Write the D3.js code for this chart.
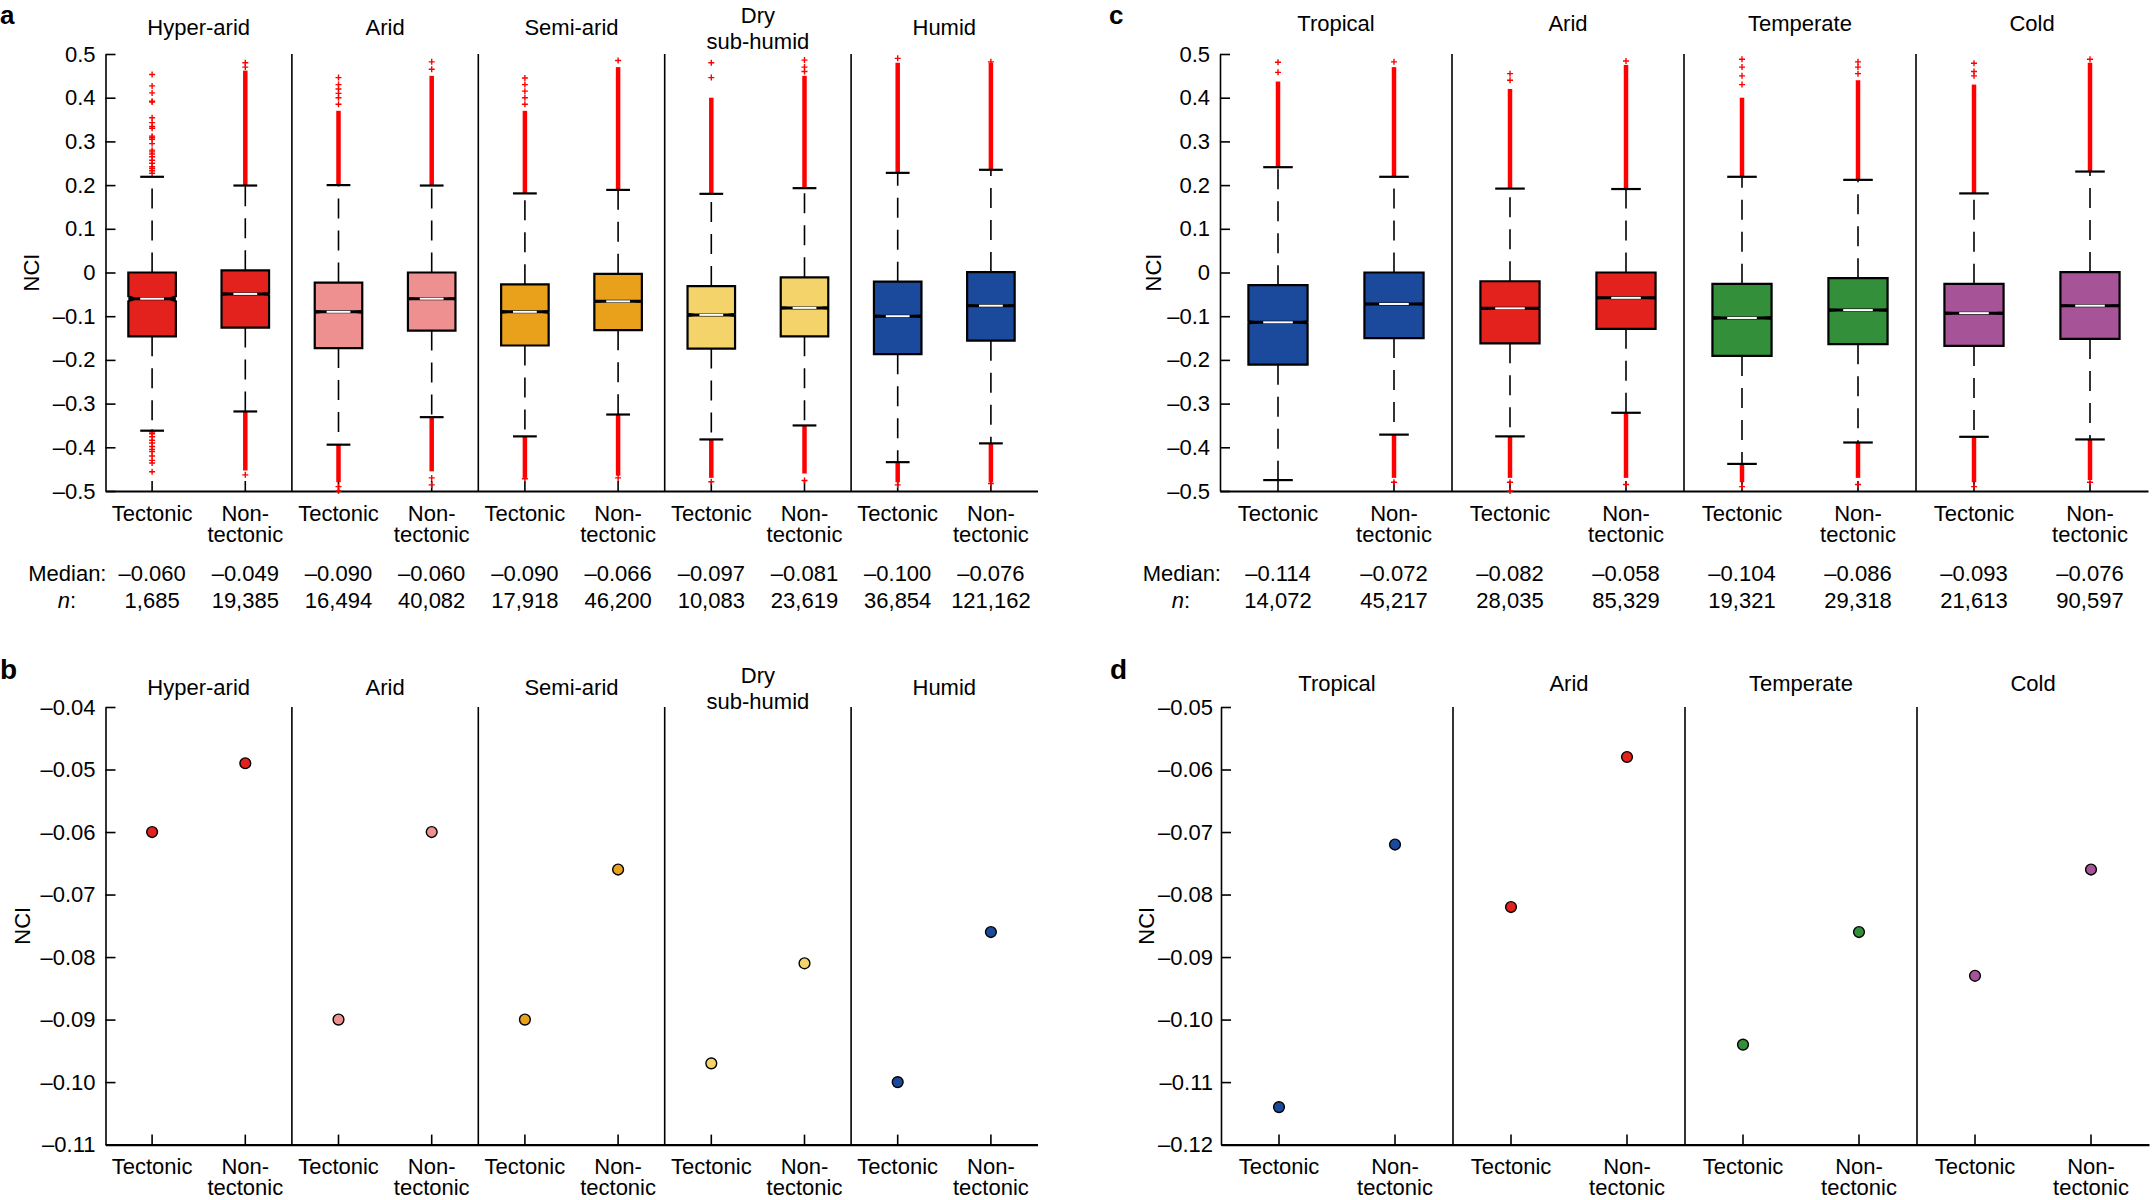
<!DOCTYPE html>
<html>
<head>
<meta charset="utf-8">
<script src="https://cdn.jsdelivr.net/npm/d3@7"></script>
<style>
  body { margin: 0; background: #fff; }
</style>
</head>
<body>
<div id="idMyCanvas"></div>
<script>
// Data
// -------------------
let aridity_zones = ["Hyper-arid", "Arid", "Semi-arid", "Dry\nsub-humid", "Humid"];
let climate_zones = ["Tropical", "Arid", "Temperate", "Cold"];
let setting_labels = ["Tectonic", "Non-\ntectonic"];

let aridity_colors = ["#e3221d", "#ee9090", "#e9a01a", "#f4d36b", "#1b4a9c"];
let climate_colors = ["#1b4a9c", "#e3221d", "#348f3b", "#a75397"];

// panel a / b  (order: tectonic, non-tectonic per zone)
let aridity_median = [-0.060, -0.049, -0.090, -0.060, -0.090, -0.066, -0.097, -0.081, -0.100, -0.076];
let aridity_n      = [1685, 19385, 16494, 40082, 17918, 46200, 10083, 23619, 36854, 121162];
let aridity_q3     = [0.000, 0.005, -0.023, 0.000, -0.027, -0.003, -0.031, -0.011, -0.021, 0.001];
let aridity_q1     = [-0.146, -0.126, -0.173, -0.133, -0.167, -0.132, -0.174, -0.146, -0.187, -0.156];
let aridity_whi    = [0.219, 0.199, 0.200, 0.199, 0.181, 0.189, 0.180, 0.193, 0.228, 0.235];
let aridity_wlo    = [-0.362, -0.318, -0.394, -0.331, -0.375, -0.325, -0.382, -0.350, -0.434, -0.391];
let aridity_band_hi = [null, 0.462, 0.37, 0.45, 0.37, 0.47, 0.40, 0.45, 0.48, 0.48];
let aridity_band_lo = [null, -0.453, -0.48, -0.455, -0.47, -0.465, -0.47, -0.46, -0.48, -0.48];
let aridity_pts_hi = [
  [0.453, 0.427, 0.411, 0.392, 0.390, 0.354, 0.343, 0.334, 0.330, 0.312, 0.309, 0.305,
   0.295, 0.280, 0.276, 0.271, 0.265, 0.257, 0.250, 0.242, 0.238, 0.233, 0.227],
  [0.480, 0.470],
  [0.446, 0.430, 0.420, 0.410, 0.400, 0.385],
  [0.482, 0.465],
  [0.445, 0.430, 0.415, 0.400, 0.385],
  [0.485],
  [0.480, 0.446],
  [0.486, 0.470, 0.460],
  [0.490],
  [0.482]
];
let aridity_pts_lo = [
  [-0.365, -0.369, -0.376, -0.384, -0.390, -0.398, -0.405, -0.410, -0.420, -0.430, -0.436, -0.456],
  [-0.463],
  [-0.490, -0.500],
  [-0.470, -0.486],
  [-0.472],
  [-0.470],
  [-0.479],
  [-0.476],
  [-0.486],
  [-0.483]
];

// panel c / d
let climate_median = [-0.114, -0.072, -0.082, -0.058, -0.104, -0.086, -0.093, -0.076];
let climate_n      = [14072, 45217, 28035, 85329, 19321, 29318, 21613, 90597];
let climate_q3     = [-0.029, 0.000, -0.020, 0.000, -0.026, -0.013, -0.026, 0.001];
let climate_q1     = [-0.211, -0.150, -0.162, -0.129, -0.191, -0.164, -0.168, -0.152];
let climate_whi    = [0.241, 0.219, 0.192, 0.191, 0.219, 0.212, 0.181, 0.231];
let climate_wlo    = [-0.475, -0.371, -0.375, -0.321, -0.438, -0.389, -0.376, -0.382];
let climate_band_hi = [0.437, 0.47, 0.42, 0.475, 0.40, 0.44, 0.43, 0.48];
let climate_band_lo = [null, -0.47, -0.47, -0.47, -0.48, -0.47, -0.48, -0.475];
let climate_pts_hi = [
  [0.481, 0.458], [0.482], [0.455, 0.440], [0.484],
  [0.488, 0.470, 0.450, 0.430], [0.482, 0.470, 0.455], [0.479, 0.460, 0.450], [0.488]
];
let climate_pts_lo = [
  [], [-0.480], [-0.480, -0.500], [-0.485], [-0.490], [-0.485], [-0.490], [-0.480]
];

let box_ticks = [0.5, 0.4, 0.3, 0.2, 0.1, 0, -0.1, -0.2, -0.3, -0.4, -0.5];
let b_ticks = [-0.04, -0.05, -0.06, -0.07, -0.08, -0.09, -0.10, -0.11];
let d_ticks = [-0.05, -0.06, -0.07, -0.08, -0.09, -0.10, -0.11, -0.12];
// -------------------

let W = 2152, H = 1200;
let FONT = "'Liberation Sans', Arial, Helvetica, sans-serif";
let FS = 22;

let svg_obj = d3.select("#idMyCanvas")
                .append("svg")
                  .attr("width", W)
                  .attr("height", H)
                  .attr("viewBox", [0, 0, W, H].join(" "))
                  .attr("font-family", FONT)
                  .attr("font-size", FS);

svg_obj.append("rect").attr("width", W).attr("height", H).attr("fill", "#fff");

let dash_fmt = function(v, dec) {
  if (Math.abs(v) < 1e-9) return "0";
  return (v < 0 ? "\u2013" : "") + Math.abs(v).toFixed(dec);
};

// shared frame: axes, dividers, titles, category labels
function frame(g, x, y, zones, opt) {
  let bw = x.bandwidth();
  let x0 = x.range()[0], x1 = x.range()[1];
  let yTop = y.range()[1], yBot = y.range()[0];

  // dividers
  for (let i = 1; i < zones.length; i++) {
    let xd = x(2 * i);
    g.append("line")
      .attr("x1", xd).attr("x2", xd)
      .attr("y1", yTop).attr("y2", yBot)
      .attr("stroke", "#000").attr("stroke-width", 1.6);
  }

  // y axis
  let ya = g.append("g")
    .attr("transform", `translate(${x0},0)`)
    .call(d3.axisLeft(y).tickValues(opt.ticks).tickSizeInner(-10).tickSizeOuter(0)
      .tickPadding(opt.pad).tickFormat(d => dash_fmt(d, opt.dec)));
  ya.attr("font-family", FONT).attr("font-size", FS);
  ya.select(".domain").attr("stroke-width", 1.6);
  ya.selectAll(".tick line").attr("stroke-width", 1.6);

  // x axis
  let xa = g.append("g")
    .attr("transform", `translate(0,${yBot})`)
    .call(d3.axisBottom(x).tickSizeInner(-10).tickSizeOuter(0).tickFormat(() => ""));
  xa.select(".domain").attr("stroke-width", 2.2);
  xa.selectAll(".tick line").attr("stroke-width", 1.6);

  // category labels
  x.domain().forEach(function(k) {
    let lines = setting_labels[k % 2].split("\n");
    let t = g.append("text")
      .attr("text-anchor", "middle")
      .attr("x", x(k) + bw / 2)
      .attr("y", opt.labelY);
    lines.forEach(function(s, j) {
      t.append("tspan").attr("x", x(k) + bw / 2).attr("dy", j === 0 ? 0 : 21).text(s);
    });
  });

  // zone titles
  zones.forEach(function(z, i) {
    let lines = z.split("\n");
    let cx = x(2 * i) + bw;
    let base = lines.length > 1 ? opt.titleY - 12 : opt.titleY;
    let t = g.append("text").attr("text-anchor", "middle").attr("x", cx).attr("y", base);
    lines.forEach(function(s, j) {
      t.append("tspan").attr("x", cx).attr("dy", j === 0 ? 0 : 26).text(s);
    });
  });

  // y label
  g.append("text")
    .attr("transform", `translate(${opt.nciX},${(yTop + yBot) / 2}) rotate(-90)`)
    .attr("text-anchor", "middle")
    .attr("dy", "0.35em")
    .text("NCI");
}

function box_panel(opt) {
  let g = svg_obj.append("g");
  let keys = d3.range(opt.zones.length * 2);
  let x = d3.scaleBand().domain(keys).range([opt.x0, opt.x1]);
  let y = d3.scaleLinear().domain([-0.5, 0.5]).range([491, 54]);
  let bw = x.bandwidth();
  let w = bw * 0.51;

  frame(g, x, y, opt.zones, {ticks: box_ticks, dec: 1, pad: 10, labelY: 521,
                             titleY: opt.titleY, nciX: opt.nciX});

  keys.forEach(function(i) {
    let cx = x(i) + bw / 2;
    let l = cx - w / 2, r = cx + w / 2;
    let col = opt.colors[Math.floor(i / 2)];

    // outliers
    let plus = function(v) {
      let py = y(v);
      g.append("path")
        .attr("d", `M${cx - 3},${py}H${cx + 3}M${cx},${py - 3}V${py + 3}`)
        .attr("stroke", "#ff0000").attr("stroke-width", 1.4).attr("fill", "none");
    };
    if (opt.bandHi[i] != null) {
      g.append("line").attr("x1", cx).attr("x2", cx)
        .attr("y1", y(opt.whi[i])).attr("y2", y(opt.bandHi[i]))
        .attr("stroke", "#ff0000").attr("stroke-width", 4.5);
    }
    if (opt.bandLo[i] != null) {
      g.append("line").attr("x1", cx).attr("x2", cx)
        .attr("y1", y(opt.wlo[i])).attr("y2", y(opt.bandLo[i]))
        .attr("stroke", "#ff0000").attr("stroke-width", 4.5);
    }
    opt.ptsHi[i].forEach(plus);
    opt.ptsLo[i].forEach(plus);

    // whiskers
    let top = y(opt.q3[i]), bot = y(opt.q1[i]), m = y(opt.median[i]);
    [[top, y(opt.whi[i])], [bot, y(opt.wlo[i])]].forEach(function(p) {
      g.append("line").attr("x1", cx).attr("x2", cx).attr("y1", p[0]).attr("y2", p[1])
        .attr("stroke", "#000").attr("stroke-width", 1.6).attr("stroke-dasharray", "20,12");
      g.append("line").attr("x1", cx - w / 4).attr("x2", cx + w / 4).attr("y1", p[1]).attr("y2", p[1])
        .attr("stroke", "#000").attr("stroke-width", 2.2);
    });

    // notched box
    let notch = 1.57 * (opt.q3[i] - opt.q1[i]) / Math.sqrt(opt.n[i]);
    let nh = y(opt.median[i] - notch) - m;
    let dep = w * 0.14;
    let d = `M${l},${top}H${r}V${m - nh}L${r - dep},${m}L${r},${m + nh}V${bot}H${l}V${m + nh}L${l + dep},${m}L${l},${m - nh}Z`;
    g.append("path").attr("d", d).attr("fill", col)
      .attr("stroke", "#000").attr("stroke-width", 2.2).attr("stroke-linejoin", "miter");
    g.append("line").attr("x1", l).attr("x2", r).attr("y1", m).attr("y2", m)
      .attr("stroke", "#000").attr("stroke-width", 3);
    g.append("line").attr("x1", cx - w / 4).attr("x2", cx + w / 4).attr("y1", m).attr("y2", m)
      .attr("stroke", "#fff").attr("stroke-width", 2);

    // median and n rows
    g.append("text").attr("text-anchor", "middle").attr("x", cx).attr("y", 581)
      .text(dash_fmt(opt.median[i], 3));
    g.append("text").attr("text-anchor", "middle").attr("x", cx).attr("y", 608)
      .text(d3.format(",")(opt.n[i]));
  });

  g.append("text").attr("text-anchor", "end").attr("x", opt.x0 + 1).attr("y", 581).text("Median:");
  let nt = g.append("text").attr("text-anchor", "end").attr("x", opt.nX).attr("y", 608);
  nt.append("tspan").attr("font-style", "italic").text("n");
  nt.append("tspan").text(":");

  svg_obj.append("text").attr("x", opt.letterX).attr("y", 24)
    .attr("font-weight", "bold").attr("font-size", 26).text(opt.letter);
}

function dot_panel(opt) {
  let g = svg_obj.append("g");
  let keys = d3.range(opt.zones.length * 2);
  let x = d3.scaleBand().domain(keys).range([opt.x0, opt.x1]);
  let y = d3.scaleLinear().domain(opt.domain).range([1144.6, 707]);
  let bw = x.bandwidth();

  frame(g, x, y, opt.zones, {ticks: opt.ticks, dec: 2, pad: opt.pad, labelY: 1174,
                             titleY: opt.titleY, nciX: opt.nciX});

  g.selectAll("circle.med")
    .data(opt.median)
    .join("circle")
      .attr("class", "med")
      .attr("cx", (d, i) => x(i) + bw / 2)
      .attr("cy", d => y(d))
      .attr("r", 5.4)
      .attr("fill", (d, i) => opt.colors[Math.floor(i / 2)])
      .attr("stroke", "#000")
      .attr("stroke-width", 1.4);

  svg_obj.append("text").attr("x", opt.letterX).attr("y", 679)
    .attr("font-weight", "bold").attr("font-size", 28).text(opt.letter);
}

// Panel a
box_panel({zones: aridity_zones, colors: aridity_colors, x0: 105.5, x1: 1037.5,
  median: aridity_median, n: aridity_n, q3: aridity_q3, q1: aridity_q1,
  whi: aridity_whi, wlo: aridity_wlo, bandHi: aridity_band_hi, bandLo: aridity_band_lo,
  ptsHi: aridity_pts_hi, ptsLo: aridity_pts_lo, titleY: 35, nciX: 31, nX: 76,
  letter: "a", letterX: 0});

// Panel c
box_panel({zones: climate_zones, colors: climate_colors, x0: 1220, x1: 2148,
  median: climate_median, n: climate_n, q3: climate_q3, q1: climate_q1,
  whi: climate_whi, wlo: climate_wlo, bandHi: climate_band_hi, bandLo: climate_band_lo,
  ptsHi: climate_pts_hi, ptsLo: climate_pts_lo, titleY: 31, nciX: 1153, nX: 1190,
  letter: "c", letterX: 1109});

// Panel b
dot_panel({zones: aridity_zones, colors: aridity_colors, x0: 105.5, x1: 1037.5,
  median: aridity_median, domain: [-0.11, -0.04], ticks: b_ticks, pad: 10,
  titleY: 695, nciX: 22, letter: "b", letterX: 0});

// Panel d
dot_panel({zones: climate_zones, colors: climate_colors, x0: 1221, x1: 2149,
  median: climate_median, domain: [-0.12, -0.05], ticks: d_ticks, pad: 8,
  titleY: 691, nciX: 1146, letter: "d", letterX: 1110});
</script>
</body>
</html>
